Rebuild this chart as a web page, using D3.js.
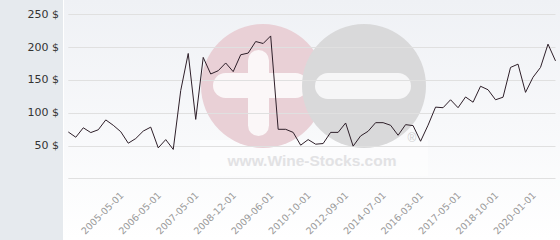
<!DOCTYPE html>
<html>
<head>
<meta charset="utf-8">
<script src="https://cdn.jsdelivr.net/npm/d3@7"></script>
<style>
  body { margin: 0; background: #fff; }
  svg { display: block; }
</style>
</head>
<body>
<svg width="560" height="240"></svg>
<script>
        // price per point (66 points, equally spaced)
        var prices = [
            70.6, 62.6, 77, 69.7, 74, 89, 80.8, 71, 53.5, 60.6,
            72, 78, 46.4, 59, 44, 133.8, 190.3, 89.8, 184.3, 159,
            164, 175.8, 162.6, 188.3, 190.9, 208.5, 205.5, 217, 74.7, 74.7,
            70, 50.5, 59, 52, 53, 70, 70, 84.3, 49, 64.6,
            71.7, 84.8, 84.8, 80.8, 65.6, 81.8, 80.3, 56.5, 81, 108.5,
            107.6, 119.7, 107.6, 124, 116, 140.3, 135, 119.7, 123.6, 169,
            174, 131, 154, 169, 204.5, 179
        ];

        // labelled categories (every 5th point, starting at point 7)
        var tickLabels = ["2005-05-01", "2006-05-01", "2007-05-01", "2008-12-01", "2009-06-01", "2010-10-01",
                          "2012-09-01", "2014-07-01", "2016-03-01", "2017-05-01", "2018-10-01", "2020-01-01"];
        var tickStart = 7, tickStep = 5;

        var yTicks = [50, 100, 150, 200, 250];
        var yGrid = [0, 50, 100, 150, 200, 250];

        var svg = d3.select("svg");

        // backgrounds
        var defs = svg.append("defs");
        var grad = defs.append("linearGradient")
            .attr("id", "plotBg")
            .attr("x1", 0).attr("y1", 0).attr("x2", 0).attr("y2", 1);
        grad.append("stop").attr("offset", "0%").attr("stop-color", "#eff1f5");
        grad.append("stop").attr("offset", "100%").attr("stop-color", "#ffffff");

        svg.append("rect")
            .attr("x", 0).attr("y", 0).attr("width", 63).attr("height", 240)
            .style("fill", "#e6eaee");
        svg.append("rect")
            .attr("x", 64).attr("y", 0).attr("width", 496).attr("height", 240)
            .style("fill", "url(#plotBg)");

        var xScale = d3.scalePoint().domain(d3.range(prices.length)).range([68.3, 555.5]),
            yScale = d3.scaleLinear().domain([0, 250]).range([178.3, 14.3]);

        // watermark
        var wm = svg.append("g").attr("class", "watermark");
        wm.append("rect")
            .attr("x", 200).attr("y", 140).attr("width", 228).attr("height", 36)
            .style("fill", "#ffffff").style("opacity", 0.45);
        wm.append("circle").attr("cx", 263).attr("cy", 86).attr("r", 62).style("fill", "#e9d0d6");
        wm.append("rect").attr("x", 213).attr("y", 73).attr("width", 95).attr("height", 25).attr("rx", 12.5)
            .style("fill", "#fbf7f8");
        wm.append("rect").attr("x", 248).attr("y", 50).attr("width", 21).attr("height", 86).attr("rx", 10.5)
            .style("fill", "#fbf7f8");
        wm.append("circle").attr("cx", 364).attr("cy", 86).attr("r", 62).style("fill", "#d9d9da");
        wm.append("rect").attr("x", 315).attr("y", 73).attr("width", 96).attr("height", 26).attr("rx", 13)
            .style("fill", "#f6f6f7");
        wm.append("text")
            .attr("x", 312).attr("y", 166)
            .attr("text-anchor", "middle")
            .style("font-family", "Liberation Sans, Arial, sans-serif")
            .style("font-weight", "bold")
            .style("font-size", "15.5px")
            .style("fill", "#e2e2e4")
            .text("www.Wine-Stocks.com");
        wm.append("text")
            .attr("x", 412).attr("y", 142)
            .attr("text-anchor", "middle")
            .style("font-family", "Liberation Sans, Arial, sans-serif")
            .style("font-size", "12px")
            .style("fill", "#cfcfd1")
            .text("®");

        // grid lines
        svg.append("g")
            .selectAll("line")
            .data(yGrid)
            .enter()
            .append("line")
            .attr("x1", xScale.range()[0])
            .attr("x2", xScale.range()[1])
            .attr("y1", function (d) { return Math.round(yScale(d)) + 0.5; })
            .attr("y2", function (d) { return Math.round(yScale(d)) + 0.5; })
            .style("stroke", "#e0e0e0")
            .style("stroke-width", 1);

        // y labels
        svg.append("g")
            .selectAll("text")
            .data(yTicks)
            .enter()
            .append("text")
            .attr("x", 59)
            .attr("y", function (d) { return yScale(d) + 3.5; })
            .attr("text-anchor", "end")
            .style("font-family", "DejaVu Sans, sans-serif")
            .style("font-size", "11px")
            .style("fill", "#333")
            .text(function (d) { return d + " $"; });

        // x labels
        svg.append("g")
            .selectAll("text")
            .data(tickLabels)
            .enter()
            .append("text")
            .attr("text-anchor", "end")
            .attr("transform", function (d, i) {
                var x = xScale(tickStart + i * tickStep) + 3.5;
                return "translate(" + x + ",196)rotate(-45)";
            })
            .style("font-family", "DejaVu Sans, sans-serif")
            .style("font-size", "9.5px")
            .style("fill", "#999")
            .text(function (d) { return d; });

        // price line
        var line = d3.line()
            .x(function (d, i) { return xScale(i); })
            .y(function (d) { return yScale(d); });

        svg.append("path")
            .datum(prices)
            .attr("d", line)
            .style("fill", "none")
            .style("stroke", "#2e1f29")
            .style("stroke-width", 1)
            .style("stroke-linejoin", "miter");
</script>
</body>
</html>
